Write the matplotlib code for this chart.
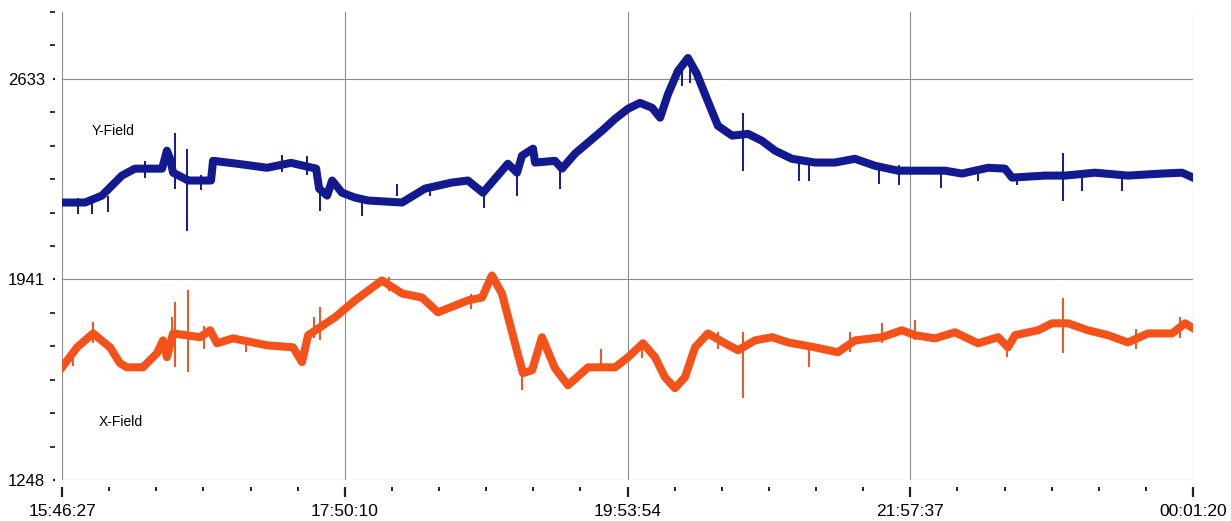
import matplotlib
matplotlib.use("Agg")
import matplotlib.pyplot as plt
from matplotlib.ticker import FixedLocator, AutoMinorLocator, FixedFormatter

# tempo em minutos desde 15:46:27
y_t = [0.0, 10.1, 17.5, 26.2, 31.9, 43.8, 45.9, 47.3, 48.6, 53.8, 55.1, 65.2,
       66.1, 76.6, 89.7, 100.2, 111.2, 112.5, 116.0, 118.2, 122.5, 128.2,
       133.9, 148.8, 158.8, 170.6, 177.6, 184.2, 192.5, 195.1, 199.1, 201.3,
       206.1, 207.0, 215.7, 218.8, 224.5, 236.3, 242.0, 247.7, 252.9, 258.2,
       261.7, 265.2, 269.5, 273.9, 277.8, 281.3, 287.0, 293.2, 300.2, 306.3,
       312.0, 319.4, 329.5, 338.2, 346.9, 355.7, 365.8, 373.2, 386.4, 393.8,
       405.2, 412.6, 415.7, 430.1, 438.9, 452.0, 466.4, 481.3, 490.1, 494.9]
y_campo = [2206, 2206, 2230, 2299, 2323, 2323, 2385, 2357, 2309, 2288, 2282, 2282,
           2350, 2340, 2326, 2343, 2323, 2254, 2230, 2282, 2240, 2223,
           2213, 2206, 2254, 2275, 2282, 2240, 2316, 2340, 2309, 2368,
           2392, 2344, 2350, 2323, 2375, 2454, 2495, 2530, 2550, 2533,
           2499, 2581, 2660, 2705, 2650, 2581, 2471, 2437, 2443, 2419,
           2385, 2357, 2344, 2344, 2357, 2333, 2316, 2316, 2316, 2306,
           2326, 2323, 2292, 2299, 2299, 2309, 2299, 2306, 2309, 2292]

x_t = [0.0, 6.6, 13.6, 21.0, 25.4, 28.4, 35.4, 41.6, 44.2, 45.9, 48.6, 60.4,
       64.8, 67.8, 74.8, 89.7, 101.1, 105.0, 107.7, 119.5, 128.2, 140.0,
       148.8, 157.5, 164.5, 177.6, 183.8, 188.1, 192.5, 198.2, 201.7, 205.7,
       210.0, 215.7, 221.4, 230.2, 242.0, 247.7, 254.2, 259.5, 263.8, 268.2,
       272.6, 277.0, 282.6, 290.1, 295.8, 303.2, 310.7, 317.7, 329.5, 339.5,
       347.0, 358.8, 367.5, 373.2, 382.0, 390.7, 400.8, 409.6, 413.9, 417.0,
       427.1, 433.2, 440.2, 448.9, 457.7, 466.4, 475.2, 485.7, 491.4, 494.9]
x_campo = [1637, 1706, 1754, 1706, 1651, 1637, 1637, 1686, 1730, 1672, 1754, 1741,
           1765, 1720, 1737, 1713, 1706, 1655, 1748, 1810, 1868, 1937,
           1892, 1878, 1827, 1868, 1878, 1954, 1892, 1720, 1617, 1627,
           1741, 1634, 1575, 1637, 1637, 1672, 1720, 1672, 1603, 1565,
           1603, 1706, 1754, 1720, 1696, 1730, 1741, 1723, 1706, 1689,
           1730, 1741, 1765, 1748, 1737, 1758, 1720, 1741, 1706, 1748,
           1765, 1789, 1789, 1765, 1748, 1723, 1754, 1754, 1789, 1772]

# picos isolados (tempo, minimo, maximo)
y_pico_t = [49.4, 54.7, 112.9, 298.0, 438.0, 7.0, 13.1, 20.1, 107.0, 131.3,
            146.6, 184.7, 199.1, 217.9, 322.5, 326.8, 357.5, 366.3, 384.7,
            446.3, 463.8, 36.3, 60.8, 96.3, 161.0, 271.4, 275.0, 401.0, 418.0]
y_pico_lo = [2254, 2109, 2178, 2316, 2213, 2168, 2168, 2175, 2300, 2161,
             2230, 2188, 2230, 2254, 2282, 2282, 2271, 2265, 2257,
             2247, 2247, 2290, 2250, 2310, 2230, 2610, 2620, 2280, 2265]
y_pico_hi = [2447, 2392, 2247, 2516, 2378, 2220, 2220, 2230, 2368, 2220,
             2271, 2254, 2300, 2350, 2361, 2361, 2340, 2335, 2320,
             2310, 2310, 2350, 2300, 2370, 2270, 2680, 2690, 2320, 2300]

x_pico_t = [13.6, 48.1, 49.4, 55.1, 112.9, 110.3, 201.3, 298.0, 438.0,
            358.8, 373.2, 326.8, 413.5, 5.0, 62.0, 80.5, 143.0, 179.0,
            236.0, 254.0, 287.0, 345.0, 470.0, 489.0]
x_pico_lo = [1720, 1730, 1637, 1620, 1730, 1740, 1558, 1530, 1686,
             1720, 1730, 1637, 1672, 1640, 1700, 1690, 1900, 1840,
             1640, 1670, 1700, 1690, 1700, 1740]
x_pico_hi = [1792, 1810, 1861, 1903, 1844, 1810, 1617, 1758, 1875,
             1789, 1799, 1700, 1720, 1700, 1780, 1735, 1950, 1890,
             1700, 1730, 1760, 1760, 1770, 1810]

rotulos_x = ["15:46:27", "17:50:10", "19:53:54", "21:57:37", "00:01:20"]
rotulos_y = ["1248", "1941", "2633"]
marcas_y = [1248, 1940.5, 2633]
passo_min = 7423.25 / 60  # 2h03m43s entre marcas principais

cor_y = "#13198f"
cor_x = "#f4511b"

fig = plt.figure(figsize=(12.31, 5.21), dpi=100)
ax = fig.add_axes([62 / 1231, 1 - 480 / 521, 1131 / 1231, 468 / 521])

ax.plot(y_t, y_campo, color=cor_y, lw=5.8, solid_joinstyle="round")
ax.vlines(y_pico_t, y_pico_lo, y_pico_hi, color=cor_y, lw=1.4)
ax.plot(x_t, x_campo, color=cor_x, lw=5.8, solid_joinstyle="round")
ax.vlines(x_pico_t, x_pico_lo, x_pico_hi, color=cor_x, lw=1.4)

ax.text(13.1, 2452, "Y-Field", fontsize=10, family="Liberation Sans", va="center")
ax.text(16.2, 1448, "X-Field", fontsize=10, family="Liberation Sans", va="center")

ax.set_xlim(0, 4 * passo_min)
ax.set_ylim(1248, 2633 + 2 * 692.5 / 6)

ax.xaxis.set_major_locator(FixedLocator([k * passo_min for k in range(5)]))
ax.xaxis.set_major_formatter(FixedFormatter(rotulos_x))
ax.xaxis.set_minor_locator(AutoMinorLocator(6))
ax.yaxis.set_major_locator(FixedLocator(marcas_y))
ax.yaxis.set_major_formatter(FixedFormatter(rotulos_y))
ax.yaxis.set_minor_locator(AutoMinorLocator(6))

for lado in ["top", "right"]:
    ax.spines[lado].set_visible(False)
for lado in ["left", "bottom"]:
    ax.spines[lado].set_position(("outward", 5))
    ax.spines[lado].set_visible(False)

ax.grid(True, which="major", color="#8a8a8a", lw=0.8)
ax.set_axisbelow(True)

ax.tick_params(axis="x", which="major", length=7, width=1.6, color="#222222",
               pad=5, labelsize=12.5)
ax.tick_params(axis="x", which="minor", length=3, width=1.4, color="#222222")
ax.tick_params(axis="y", which="major", length=1.2, width=1.6, color="#222222",
               pad=6, labelsize=12)
ax.tick_params(axis="y", which="minor", length=3.5, width=1.3, color="#222222")
for rotulo in ax.get_xticklabels() + ax.get_yticklabels():
    rotulo.set_family("Liberation Sans")

fig.savefig("out.png", dpi=100)
